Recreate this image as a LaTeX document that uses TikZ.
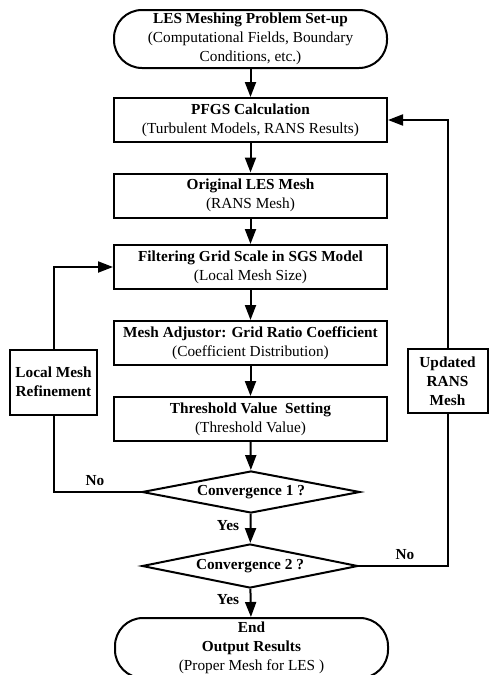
\documentclass[tikz,border=0pt]{standalone}
\usepackage{fontspec}
\setmainfont{Liberation Serif}
\usepackage{xcolor}
\usetikzlibrary{arrows.meta, shapes.geometric}
\newcommand{\steptext}[2]{\textbf{#1}\\#2}

\begin{document}
\begin{tikzpicture}[x=1pt,y=-1pt,
  every node/.style={font=\fontsize{15.3}{19}\selectfont},
  procBox/.style={draw,line width=2pt,minimum width=273pt,minimum height=44pt,align=center,inner sep=2pt},
  termBox/.style={draw,line width=2pt,rounded corners=28pt,minimum width=273pt,minimum height=58pt,align=center,inner sep=2pt},
  decBox/.style={draw,diamond,aspect=5.2,line width=2pt,minimum width=218pt,minimum height=42pt,inner sep=0pt,font=\fontsize{15.3}{19}\selectfont\bfseries},
  sideBox/.style={draw,line width=2pt,minimum height=65pt,align=center,inner sep=2pt,font=\fontsize{15.3}{19}\selectfont\bfseries},
  arr/.style={line width=2pt,-{Triangle[length=15pt,width=11pt]}},
  lnk/.style={line width=2pt},
  lbl/.style={font=\fontsize{15.3}{19}\selectfont\bfseries}]
\useasboundingbox (0,0) rectangle (489,675);
\node[termBox] (start) at (250.5,39) {\steptext{LES Meshing Problem Set-up}{(Computational Fields, Boundary\\Conditions, etc.)}};
\node[procBox] (pfgs) at (250.5,120) {\steptext{PFGS Calculation}{(Turbulent Models, RANS Results)}};
\node[procBox] (orig) at (250.5,195.5) {\steptext{Original LES Mesh}{(RANS Mesh)}};
\node[procBox] (filter) at (250.5,267) {\steptext{Filtering Grid Scale in SGS Model}{(Local Mesh Size)}};
\node[procBox] (adjust) at (250.5,343) {\steptext{Mesh Adjustor: Grid Ratio Coefficient}{(Coefficient Distribution)}};
\node[procBox] (thresh) at (250.5,419) {\steptext{Threshold Value\ \ Setting}{(Threshold Value)}};
\node[decBox] (convA) at (251,492) {Convergence 1 ?};
\node[decBox,minimum width=216pt,minimum height=44pt] (convB) at (250,566) {Convergence 2 ?};
\node[termBox,minimum height=60pt] (finish) at (251.5,648) {\textbf{End}\\\textbf{Output Results}\\(Proper Mesh for LES )};
\node[sideBox,minimum width=87pt] (refine) at (53.5,382) {Local Mesh\\Refinement};
\node[sideBox,minimum width=80pt,minimum height=64pt] (update) at (447.5,381) {Updated\\RANS\\Mesh};
% main flow
\draw[arr] (start) -- (pfgs);
\draw[arr] (pfgs) -- (orig);
\draw[arr] (orig) -- (filter);
\draw[arr] (filter) -- (adjust);
\draw[arr] (adjust) -- (thresh);
\draw[arr] (thresh) -- (convA);
\draw[arr] (convA) -- (convB);
\draw[arr] (convB) -- (finish);
% loops
\draw[lnk] (convA.west) -| (refine.south);
\draw[arr] (refine.north) |- (filter.west);
\draw[lnk] (convB.east) -| (update.south);
\draw[arr] (update.north) |- (pfgs.east);
% labels
\node[lbl] (noA) at (95,481) {No};
\node[lbl] (noB) at (405,555) {No};
\node[lbl] (yesA) at (228,526) {Yes};
\node[lbl] (yesB) at (228,600) {Yes};
\end{tikzpicture}
\end{document}
